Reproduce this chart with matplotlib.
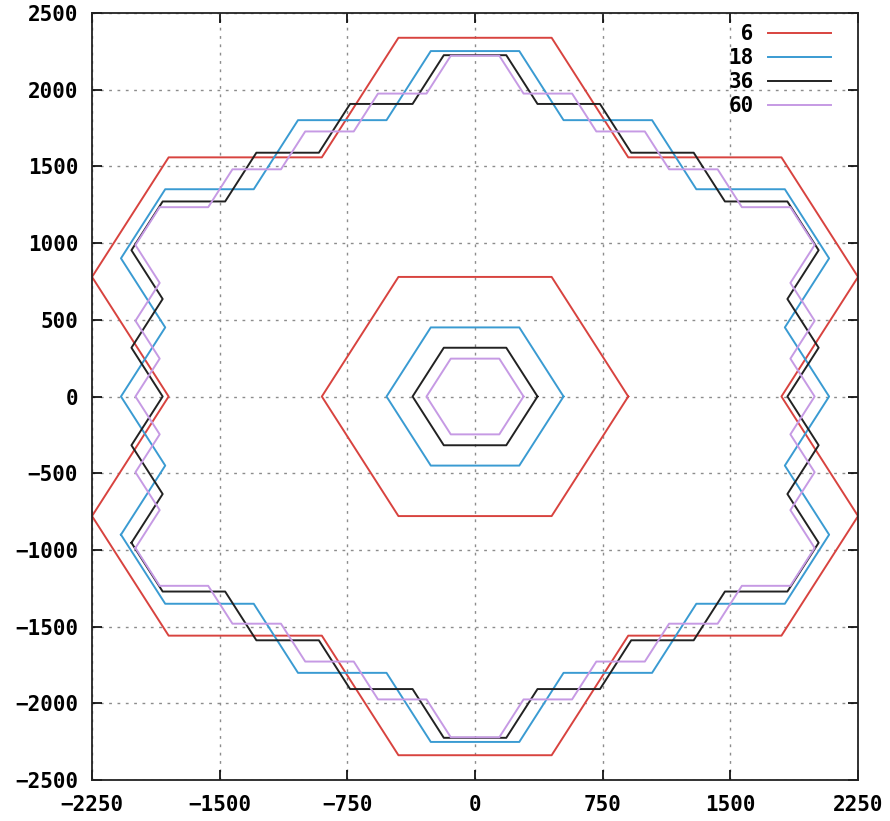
import numpy as np
import matplotlib.pyplot as plt

# number of cells around the centre cell, rings of hexagons, cell radius
labels = [6, 18, 36, 60]
rings = [1, 2, 3, 4]
cell_radius = [900, 520, 367, 285]
colors = ['#d8433f', '#3a9bd2', '#222222', '#c69ae4']

x_ticks = [-2250, -1500, -750, 0, 750, 1500, 2250]
y_ticks = [-2500, -2000, -1500, -1000, -500, 0, 500, 1000, 1500, 2000, 2500]


def hex_vertices(cx, cy, r):
    ang = np.radians(np.arange(0, 360, 60))
    return [(cx + r * np.cos(a), cy + r * np.sin(a)) for a in ang]


def cluster_outline(k, r):
    # flat-top hexagon cells within k rings of the centre (axial coords)
    edges = {}
    for q in range(-k, k + 1):
        for s in range(max(-k, -q - k), min(k, -q + k) + 1):
            cx = 1.5 * r * q
            cy = np.sqrt(3) * r * (s + q / 2)
            v = hex_vertices(cx, cy, r)
            for i in range(6):
                a, b = v[i], v[(i + 1) % 6]
                ka = (round(a[0], 3), round(a[1], 3))
                kb = (round(b[0], 3), round(b[1], 3))
                key = tuple(sorted([ka, kb]))
                edges[key] = edges.get(key, 0) + 1
    border = [e for e, n in edges.items() if n == 1]
    # chain the border edges into one closed path
    nbr = {}
    for a, b in border:
        nbr.setdefault(a, []).append(b)
        nbr.setdefault(b, []).append(a)
    start = border[0][0]
    path = [start]
    prev, cur = None, start
    while True:
        nxt = [p for p in nbr[cur] if p != prev][0]
        if nxt == start:
            break
        path.append(nxt)
        prev, cur = cur, nxt
    path.append(start)
    return np.array(path)


plt.rcParams['font.family'] = ['DejaVu Sans Mono']
plt.rcParams['font.weight'] = 'bold'

fig = plt.figure(figsize=(8.9, 8.21), dpi=100)
ax = fig.add_axes([0.1034, 0.0499, 0.8607, 0.9343])

for n, k, r, c in zip(labels, rings, cell_radius, colors):
    inner = np.array(hex_vertices(0, 0, r) + [hex_vertices(0, 0, r)[0]])
    ax.plot(inner[:, 0], inner[:, 1], color=c, lw=1.4, label=f'{n:>2}')
    outer = cluster_outline(k, r)
    ax.plot(outer[:, 0], outer[:, 1], color=c, lw=1.4)

ax.set_xlim(-2250, 2250)
ax.set_ylim(-2500, 2500)
ax.set_xticks(x_ticks)
ax.set_yticks(y_ticks)
ax.grid(True, color='#8c8c8c', linestyle=(0, (2, 4)), lw=1.0)
ax.tick_params(direction='in', length=7, width=1.2, top=True, right=True,
               labeltop=False, labelright=False, labelsize=15)
ax.tick_params(axis='x', pad=11)
ax.tick_params(axis='y', pad=10)
for sp in ax.spines.values():
    sp.set_linewidth(1.3)
    sp.set_color('#222222')

leg = ax.legend(loc='upper right', bbox_to_anchor=(0.975, 0.9965),
                frameon=False, markerfirst=False,
                fontsize=15, handlelength=3.0, handletextpad=0.7,
                labelspacing=0.2, borderaxespad=0.0)

fig.savefig('out.png', dpi=100)
